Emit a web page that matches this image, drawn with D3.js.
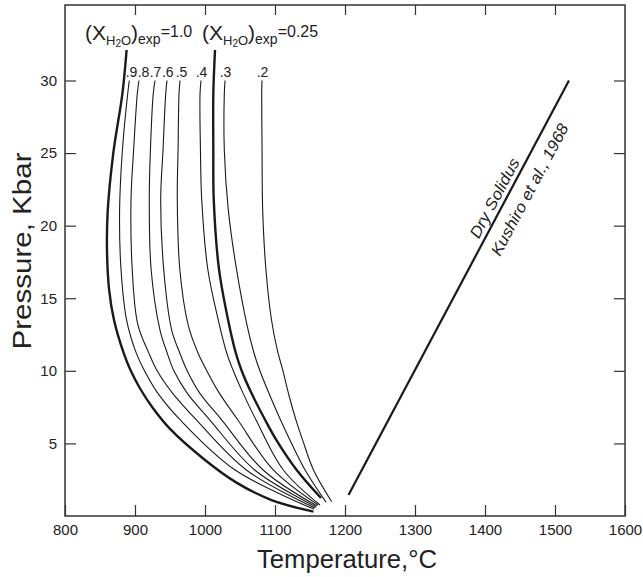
<!DOCTYPE html>
<html lang="en">
<head>
    <meta charset="UTF-8" />
    <title>Solidus isopleths</title>
    <script src="https://d3js.org/d3.v7.min.js"></script>
    <style>
        body { margin: 0; background: #fff; }
        text { font-family: "Liberation Sans", Arial, sans-serif; fill: #222; }
        .tick line { stroke: #333; stroke-width: 1.2; }
        .tick text { font-size: 15px; }
    </style>
</head>
<body>
    <script>
        // axis ticks
        const xTicks = [800, 900, 1000, 1100, 1200, 1300, 1400, 1500, 1600];
        const yTicks = [5, 10, 15, 20, 25, 30];

        // solidus curves, [temperature °C, pressure kbar]
        const curve10 = [[888, 32.1], [882, 29.1], [869, 25], [861, 21], [860, 18.3], [863, 15.6], [870, 13.5], [884, 11.2], [894, 10], [907, 8.8], [926, 7.4], [950, 6.0], [1000, 3.86], [1045, 2.3], [1095, 1.1], [1155, 0.3]];
        const curve09 = [[891.9, 30], [889.6, 29.1], [882, 25.2], [878, 21.1], [880, 17], [888, 13.5], [902, 11.2], [913, 10.06], [932, 8.5], [965, 6.6], [1043, 3.17], [1155.7, 0.48]];
        const curve08 = [[905.7, 30], [903.3, 29.1], [898, 25.2], [894.3, 21.8], [896, 17], [904, 13.2], [920, 11.2], [931, 10.06], [953, 8.5], [988, 6.6], [1059, 3.17], [1157.1, 0.55]];
        const curve07 = [[928.6, 30], [926.1, 29.1], [922, 25.2], [920.4, 21.8], [923, 17], [935.7, 12.81], [946, 11.23], [955, 10.06], [974, 8.5], [1007, 6.61], [1071, 3.17], [1158.6, 0.62]];
        const curve06 = [[945.7, 30], [943.9, 29.1], [940, 25.2], [936.7, 21.8], [941, 17], [952.4, 12.81], [964, 11.23], [974, 10.06], [992, 8.5], [1024, 6.61], [1083, 3.17], [1160, 0.69]];
        const curve05 = [[964.3, 30], [962.9, 29.1], [961.5, 25.2], [960.4, 21.8], [964, 17], [976, 13.15], [990, 11.23], [1002, 10.06], [1020, 8.5], [1047, 6.61], [1097.6, 3.17], [1161.4, 0.76]];
        const curve04 = [[994.3, 30], [992.9, 29.1], [993.5, 25.2], [995.3, 21.8], [1004, 17], [1019, 13.5], [1031, 11.23], [1040, 10.06], [1054, 8.5], [1073, 6.61], [1111.9, 3.17], [1164.3, 0.76]];
        const curve025 = [[1014.3, 32.1], [1011.9, 29.1], [1011.9, 25.2], [1012.5, 21.8], [1020, 17], [1033, 13.5], [1044, 11.23], [1052, 10.06], [1066, 8.5], [1086, 6.61], [1102, 5.23], [1131, 3.17], [1165.7, 1.24]];
        const curve03 = [[1028.6, 30], [1027.6, 29.1], [1027.6, 25.2], [1033.3, 21.07], [1045, 17], [1060, 13.15], [1070, 11.23], [1078, 10.06], [1091, 8.5], [1108, 6.61], [1143, 3.17], [1172.9, 0.96]];
        const curve02 = [[1081.4, 30], [1081, 29.1], [1081.5, 25.2], [1082.4, 21.07], [1087, 17], [1095, 13.5], [1103, 11.5], [1111, 10.06], [1120, 8.3], [1130, 6.61], [1139.5, 5.23], [1155, 3.17], [1181, 0.98]];

        // dry solidus (Kushiro et al., 1968)
        const drySolidus = [[1205, 1.45], [1520, 30]];

        // label and horizontal nudge of the label in pixels
        const curves = [
            { label: "", pts: curve10, thick: true },
            { label: ".9", pts: curve09, dx: 2.2 },
            { label: ".8", pts: curve08, dx: 4.5 },
            { label: ".7", pts: curve07, dx: 0.5 },
            { label: ".6", pts: curve06, dx: 0.8 },
            { label: ".5", pts: curve05, dx: 1.5 },
            { label: ".4", pts: curve04, dx: 0.5 },
            { label: "", pts: curve025, thick: true },
            { label: ".3", pts: curve03, dx: 0.5 },
            { label: ".2", pts: curve02, dx: 0.5 }
        ];

        const width = 643, height = 577;

        const x = d3.scaleLinear().domain([800, 1600]).range([65, 625]);
        const y = d3.scaleLinear().domain([0, 35.2]).range([516, 5]);

        const svg = d3.select("body").append("svg")
            .attr("width", width)
            .attr("height", height);

        // axes, ticks pointing inward
        svg.append("g")
            .attr("transform", `translate(0,${y(0)})`)
            .call(d3.axisBottom(x).tickValues(xTicks).tickSize(-11).tickPadding(8).tickFormat(d3.format("d")))
            .call(g => g.select(".domain").remove());
        svg.append("g")
            .attr("transform", `translate(0,${y(35.2)})`)
            .call(d3.axisTop(x).tickValues(xTicks.slice(1, -1)).tickSize(-10).tickFormat(""))
            .call(g => g.select(".domain").remove());
        svg.append("g")
            .attr("transform", `translate(${x(800)},0)`)
            .call(d3.axisLeft(y).tickValues(yTicks).tickSize(-11).tickPadding(8))
            .call(g => g.select(".domain").remove());
        svg.append("g")
            .attr("transform", `translate(${x(1600)},0)`)
            .call(d3.axisRight(y).tickValues(yTicks).tickSize(-11).tickFormat(""))
            .call(g => g.select(".domain").remove());

        svg.append("rect")
            .attr("x", x(800)).attr("y", y(35.2))
            .attr("width", x(1600) - x(800)).attr("height", y(0) - y(35.2))
            .attr("fill", "none").attr("stroke", "#333").attr("stroke-width", 1.5);

        // axis titles
        svg.append("text")
            .attr("x", 347).attr("y", 568)
            .attr("text-anchor", "middle")
            .attr("font-size", 26)
            .attr("textLength", 180).attr("lengthAdjust", "spacingAndGlyphs")
            .text("Temperature,°C");
        svg.append("text")
            .attr("transform", "translate(31,251) rotate(-90)")
            .attr("text-anchor", "middle")
            .attr("font-size", 26)
            .attr("textLength", 197).attr("lengthAdjust", "spacingAndGlyphs")
            .text("Pressure, Kbar");

        // curves
        const line = d3.line()
            .x(d => x(d[0]))
            .y(d => y(d[1]))
            .curve(d3.curveCatmullRom.alpha(0.5));

        svg.selectAll("path.curve")
            .data(curves)
            .enter()
            .append("path")
            .attr("class", "curve")
            .attr("d", d => line(d.pts))
            .attr("fill", "none")
            .attr("stroke", "#1a1a1a")
            .attr("stroke-width", d => d.thick ? 2.4 : 1.1);

        svg.selectAll("text.clabel")
            .data(curves.filter(d => d.label))
            .enter()
            .append("text")
            .attr("class", "clabel")
            .attr("x", d => x(d.pts[0][0]) + d.dx)
            .attr("y", 77)
            .attr("text-anchor", "middle")
            .attr("font-size", 14)
            .text(d => d.label);

        // (X_H2O)exp headers
        function header(x0, value) {
            const t = svg.append("text").attr("x", x0).attr("y", 40).attr("font-size", 21);
            t.append("tspan").text("(X");
            t.append("tspan").attr("font-size", 13).attr("dy", 5).text("H");
            t.append("tspan").attr("font-size", 10).attr("dy", 2).text("2");
            t.append("tspan").attr("font-size", 13).attr("dy", -2).text("O");
            t.append("tspan").attr("font-size", 21).attr("dy", -5).text(")");
            t.append("tspan").attr("font-size", 14).attr("dy", 4).text("exp");
            t.append("tspan").attr("font-size", 16).attr("dy", -7).text("=" + value);
        }
        header(85, "1.0");
        header(202, "0.25");

        // dry solidus
        svg.append("path")
            .attr("d", d3.line().x(d => x(d[0])).y(d => y(d[1]))(drySolidus))
            .attr("fill", "none")
            .attr("stroke", "#1a1a1a")
            .attr("stroke-width", 2.2);

        const [p0, p1] = drySolidus;
        const ang = Math.atan2(y(p1[1]) - y(p0[1]), x(p1[0]) - x(p0[0])) * 180 / Math.PI;
        const f = 0.73;
        const lx = x(p0[0] + f * (p1[0] - p0[0]));
        const ly = y(p0[1] + f * (p1[1] - p0[1]));
        const lab = svg.append("g").attr("transform", `translate(${lx},${ly}) rotate(${ang})`);
        lab.append("text")
            .attr("x", -12).attr("y", -5)
            .attr("text-anchor", "middle")
            .attr("font-size", 16).attr("font-style", "italic")
            .attr("textLength", 88).attr("lengthAdjust", "spacingAndGlyphs")
            .text("Dry Solidus");
        lab.append("text")
            .attr("x", 12).attr("y", 22)
            .attr("text-anchor", "middle")
            .attr("font-size", 16).attr("font-style", "italic")
            .attr("textLength", 147).attr("lengthAdjust", "spacingAndGlyphs")
            .text("Kushiro et al., 1968");
    </script>
</body>
</html>
